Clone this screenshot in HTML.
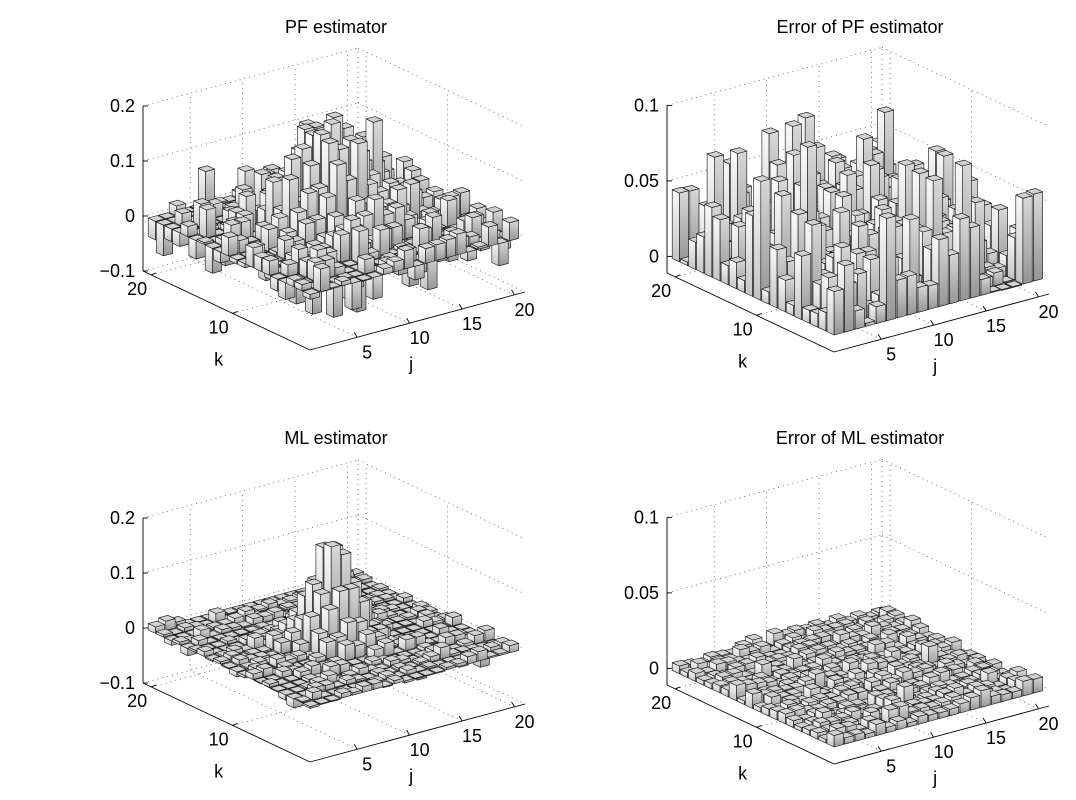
<!DOCTYPE html>
<html><head><meta charset="utf-8">
<style>
html,body{margin:0;padding:0;background:#fff;}
svg{display:block;}
text{font-family:"Liberation Sans",Arial,sans-serif;fill:#000;}
</style></head>
<body>
<svg id="s" width="1076" height="800" viewBox="0 0 1076 800" xmlns="http://www.w3.org/2000/svg">
<g id="g"></g>
<text x="336" y="33" font-size="18" text-anchor="middle">PF estimator</text>
<text x="860" y="33" font-size="18" text-anchor="middle">Error of PF estimator</text>
<text x="336" y="444" font-size="18" text-anchor="middle">ML estimator</text>
<text x="860" y="444" font-size="18" text-anchor="middle">Error of ML estimator</text>
</svg>
<script>
var seed=12345;
function rnd(){seed=(seed*1103515245+12345)%2147483648;return seed/2147483648;}
function gauss(){var u=rnd()||1e-9,v=rnd();return Math.sqrt(-2*Math.log(u))*Math.cos(2*Math.PI*v);}
var N=20,pf=[],epf=[],ml=[],eml=[];
for(var j=1;j<=N;j++){pf[j]=[];epf[j]=[];ml[j]=[];eml[j]=[];
 for(var k=1;k<=N;k++){
  var r2=(j-10.5)*(j-10.5)+(k-10.5)*(k-10.5);
  var t=0.15*Math.exp(-r2/(2*1.3*1.3))+0.045*Math.exp(-r2/(2*3.5*3.5));
  var p=0.19*Math.exp(-r2/(2*3.0*3.0))+0.028*gauss();
  p=Math.max(-0.1,Math.min(0.2,p));
  pf[j][k]=p;
  var e=Math.abs(0.03*gauss());epf[j][k]=Math.min(0.085,e);
  var m=t+0.008*gauss()-0.015*Math.exp(-Math.pow(Math.sqrt(r2)-5,2)/2);ml[j][k]=Math.max(-0.1,m);
  eml[j][k]=Math.abs(0.004*gauss())+0.002;
 }}
var G=document.getElementById('g'),out='';
function panel(ox,oy,zmin,zmax,zs,zt,zl,data){
 var Fx=ox+167,Fy=oy+79;
 function P(j,k,z){var t=(j-0.5)/20.5,s=(k-0.5)/20.5;
  return [Fx+t*215-s*167, Fy-t*58-s*79-(z-zmin)*zs];}
 function pt(a){return a[0].toFixed(1)+','+a[1].toFixed(1);}
 function line(a,b,st){out+='<line x1="'+a[0].toFixed(1)+'" y1="'+a[1].toFixed(1)+'" x2="'+b[0].toFixed(1)+'" y2="'+b[1].toFixed(1)+'" '+st+'/>';}
 var dot='stroke="#555" stroke-width="0.8" stroke-dasharray="1,4"';
 var J0=0.5,J1=21,K0=0.5,K1=21;
 zt.forEach(function(z){line(P(J0,K1,z),P(J1,K1,z),dot);line(P(J1,K1,z),P(J1,K0,z),dot);});
 [5,10,15,20].forEach(function(v){line(P(v,K1,zmin),P(v,K1,zmax),dot);line(P(v,K0,zmin),P(v,K1,zmin),dot);});
 [10,20].forEach(function(v){line(P(J1,v,zmin),P(J1,v,zmax),dot);line(P(J0,v,zmin),P(J1,v,zmin),dot);});
 line(P(J1,K1,zmin),P(J1,K1,zmax),dot);
 var sol='stroke="#000" stroke-width="0.9"';
 line(P(J0,K1,zmin),P(J0,K1,zmax),sol);
 line(P(J0,K1,zmin),P(J0,K0,zmin),sol);
 line(P(J0,K0,zmin),P(J1,K0,zmin),sol);
 zt.forEach(function(z,i){var a=P(J0,K1,z);line(a,[a[0]+5,a[1]],sol);
  out+='<text x="'+(a[0]-8)+'" y="'+(a[1]+6)+'" font-size="18" text-anchor="end">'+zl[i]+'</text>';});
 [5,10,15,20].forEach(function(v){var a=P(v,K0,zmin);line(a,[a[0]-3,a[1]-5],sol);
  out+='<text x="'+(a[0]+10)+'" y="'+(a[1]+21)+'" font-size="18" text-anchor="middle">'+v+'</text>';});
 [10,20].forEach(function(v){var a=P(J0,v,zmin);line(a,[a[0]+5,a[1]-2],sol);
  out+='<text x="'+(a[0]-14)+'" y="'+(a[1]+20)+'" font-size="18" text-anchor="middle">'+v+'</text>';});
 var kk=P(J0,10,zmin);out+='<text x="'+(kk[0]-14)+'" y="'+(kk[1]+52)+'" font-size="18" text-anchor="middle">k</text>';
 var jj=P(9,K0,zmin);out+='<text x="'+(jj[0]+12)+'" y="'+(jj[1]+44)+'" font-size="18" text-anchor="middle">j</text>';
 var cells=[];
 for(var j=1;j<=N;j++)for(var k=1;k<=N;k++)cells.push([j,k]);
 cells.sort(function(a,b){return (b[0]+b[1])-(a[0]+a[1]) || (b[0]-a[0]);});
 var w=0.44;
 cells.forEach(function(c){var j=c[0],k=c[1],v=data[j][k];
  var lo=Math.min(0,v),hi=Math.max(0,v);
  var mn=0.0015*(zmax-zmin)/0.3;
  if(hi-lo<mn){lo=hi-mn;}
  var a=j-w,b=j+w,c0=k-w,d=k+w;
  var st=' stroke="#111" stroke-width="0.6" stroke-linejoin="round"';
  out+='<polygon points="'+pt(P(a,c0,lo))+' '+pt(P(a,d,lo))+' '+pt(P(a,d,hi))+' '+pt(P(a,c0,hi))+'" fill="url(#gl)"'+st+'/>';
  out+='<polygon points="'+pt(P(a,c0,lo))+' '+pt(P(b,c0,lo))+' '+pt(P(b,c0,hi))+' '+pt(P(a,c0,hi))+'" fill="url(#gr)"'+st+'/>';
  out+='<polygon points="'+pt(P(a,c0,hi))+' '+pt(P(b,c0,hi))+' '+pt(P(b,d,hi))+' '+pt(P(a,d,hi))+'" fill="#d2d2d2"'+st+'/>';
 });
}
out+='<defs><linearGradient id="gl" x1="0" y1="0" x2="0" y2="1"><stop offset="0" stop-color="#fafafa"/><stop offset="1" stop-color="#c4c4c4"/></linearGradient><linearGradient id="gr" x1="0" y1="0" x2="0" y2="1"><stop offset="0" stop-color="#d8d8d8"/><stop offset="1" stop-color="#959595"/></linearGradient></defs>';
panel(143,271,-0.1,0.2,550,[-0.1,0,0.1,0.2],['\u22120.1','0','0.1','0.2'],pf);
panel(667,273,-0.011,0.1,1510,[0,0.05,0.1],['0','0.05','0.1'],epf);
panel(143,683,-0.1,0.2,550,[-0.1,0,0.1,0.2],['\u22120.1','0','0.1','0.2'],ml);
panel(667,685,-0.011,0.1,1510,[0,0.05,0.1],['0','0.05','0.1'],eml);
G.innerHTML=out;
</script>
</body></html>
